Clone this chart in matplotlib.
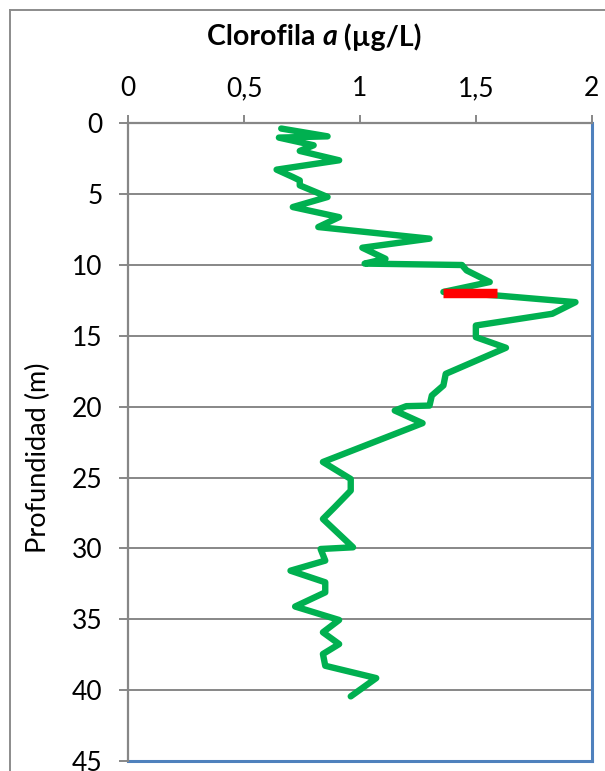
import matplotlib
matplotlib.use("Agg")
import matplotlib.pyplot as plt
from matplotlib.lines import Line2D

plt.rcParams['font.family'] = ['Lato', 'DejaVu Sans']

# Perfil de clorofila a (ug/L) frente a profundidad (m)
profundidad = [0.37, 0.92, 1.01, 1.55, 1.95, 2.61, 3.27, 3.79, 4.03, 4.38,
               5.2, 5.91, 6.62, 7.32, 8.14, 8.78, 9.56, 9.9, 10.0, 10.38,
               11.2, 11.9, 12.15, 12.62, 13.44, 14.27, 15.09, 15.84, 17.68, 18.5,
               19.21, 19.92, 19.96, 20.27, 21.16, 23.9, 25.1, 25.92, 27.1, 27.92,
               29.92, 30.04, 30.86, 31.57, 32.39, 33.1, 34.1, 35.05, 35.92, 36.75,
               37.45, 38.28, 39.15, 40.44]
clorofila = [0.66, 0.86, 0.65, 0.80, 0.74, 0.91, 0.64, 0.71, 0.74, 0.74,
             0.86, 0.71, 0.91, 0.82, 1.30, 1.01, 1.11, 1.02, 1.44, 1.46,
             1.56, 1.36, 1.59, 1.93, 1.83, 1.50, 1.50, 1.63, 1.37, 1.36,
             1.31, 1.30, 1.20, 1.15, 1.27, 0.84, 0.96, 0.96, 0.89, 0.84,
             0.97, 0.83, 0.85, 0.70, 0.85, 0.85, 0.72, 0.91, 0.84, 0.91,
             0.84, 0.85, 1.07, 0.96]

# Maximo profundo de clorofila
dcm_prof = 12
dcm_rango = [1.36, 1.59]

x_ticks = [0, 0.5, 1, 1.5, 2]
x_labels = ['0', '0,5', '1', '1,5', '2']
y_ticks = [0, 5, 10, 15, 20, 25, 30, 35, 40, 45]

W, H = 605, 771
fig = plt.figure(figsize=(W / 100, H / 100), dpi=100)
ax = fig.add_axes([128.3 / W, 1 - 761 / H, (591.7 - 128.3) / W, (761 - 123.3) / H])

gris = '#878787'
azul = '#4F81BD'

ax.plot(clorofila, profundidad, color='#00B050', lw=4.6,
        solid_joinstyle='round', solid_capstyle='round', zorder=3)
ax.plot(dcm_rango, [dcm_prof, dcm_prof], color='#FF0000', lw=6.8,
        solid_capstyle='butt', zorder=4)

ax.set_xlim(0, 2)
ax.set_ylim(45, 0)
ax.xaxis.tick_top()
ax.set_xticks(x_ticks)
ax.set_xticklabels(x_labels)
ax.set_yticks(y_ticks)
ax.yaxis.grid(True, color=gris, lw=1.4, zorder=1)
ax.set_axisbelow(True)

ax.tick_params(axis='x', direction='out', length=6, width=1.4, color=gris,
               pad=10, labelsize=19)
ax.tick_params(axis='y', direction='out', length=6.5, width=1.4, color=gris,
               pad=12, labelsize=19)

for lado in ['right', 'bottom']:
    ax.spines[lado].set_color(azul)
    ax.spines[lado].set_linewidth(2.2)
for lado in ['left', 'top']:
    ax.spines[lado].set_color(gris)
    ax.spines[lado].set_linewidth(1.6)
    ax.spines[lado].set_zorder(5)

# marco exterior del grafico
fig.add_artist(Line2D([9.5 / W, 9.5 / W], [0, 1 - 9.5 / H], color='#8c8c8c', lw=1.4))
fig.add_artist(Line2D([9.5 / W, 1], [1 - 9.5 / H, 1 - 9.5 / H], color='#8c8c8c', lw=1.4))

# titulo con la "a" en cursiva
partes = [('Clorofila ', 'normal'), ('a', 'italic'), (' (µg/L)', 'normal')]
fig.canvas.draw()
r = fig.canvas.get_renderer()
textos = []
for s, estilo in partes:
    t = fig.text(0, 1 - 37 / H, s, fontsize=20.5, fontweight='bold', style=estilo,
                 va='center', ha='left')
    textos.append(t)
anchos = []
for t in textos:
    t.set_text(t.get_text().replace(' ', '\u00a0'))
    anchos.append(t.get_window_extent(r).width)
x = 314 - sum(anchos) / 2
for t, w in zip(textos, anchos):
    t.set_x(x / W)
    x += w

fig.text(38 / W, 1 - 458 / H, 'Profundidad (m)', rotation=90, fontsize=19.5,
         va='center', ha='center')

fig.savefig('out.png', dpi=100)
